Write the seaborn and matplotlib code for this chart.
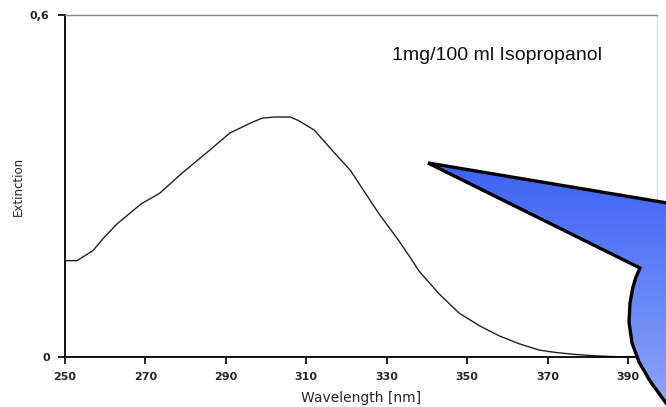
import numpy as np
import pandas as pd
import matplotlib
matplotlib.use("Agg")
import matplotlib.pyplot as plt
import seaborn as sns
from matplotlib.patches import Polygon
from matplotlib.colors import LinearSegmentedColormap

# ---- data ----
wavelength = [250, 253, 257, 259.5, 263, 269, 273.5, 279, 286, 291, 296, 299, 302, 306,
              308, 312, 316, 321, 328, 333, 336, 338, 343, 348, 353, 358, 363,
              368, 372, 376, 382, 389, 396]
extinction = [0.169, 0.169, 0.187, 0.208, 0.234, 0.269, 0.287, 0.322, 0.363, 0.393,
              0.410, 0.419, 0.421, 0.421, 0.415, 0.398, 0.366, 0.327, 0.252,
              0.204, 0.173, 0.151, 0.111, 0.077, 0.055, 0.037, 0.023, 0.012, 0.008,
              0.005, 0.002, 0.0, 0.0]
x_ticks = [250, 270, 290, 310, 330, 350, 370, 390]
y_ticks = [0, 0.6]
y_tick_labels = ["0", "0,6"]
annotation = "1mg/100 ml Isopropanol"
x_label = "Wavelength [nm]"
y_label = "Extinction"

df = pd.DataFrame({"wl": wavelength, "ext": extinction})

sns.set_style("white")
plt.rcParams["font.family"] = ["DejaVu Sans"]

W, H = 666, 407
fig = plt.figure(figsize=(W / 100, H / 100), dpi=100)
ax = fig.add_axes([65 / W, 1 - 357 / H, (657 - 65) / W, (357 - 15) / H])

sns.lineplot(data=df, x="wl", y="ext", ax=ax, color="#222222", linewidth=1.0)

ax.set_xlim(250, 397.2)
ax.set_ylim(0, 0.6)
ax.set_xticks(x_ticks)
ax.set_xticklabels([str(t) for t in x_ticks], fontsize=8, fontweight="bold")
ax.set_yticks(y_ticks)
ax.set_yticklabels(y_tick_labels, fontsize=8, fontweight="bold")
ax.tick_params(axis="both", direction="out", length=5, width=1.2, color="black",
               bottom=True, left=True, pad=6)
ax.set_xlabel(x_label, fontsize=10, labelpad=6)
ax.set_ylabel(y_label, fontsize=8.5, labelpad=4)
for s in ["left", "bottom"]:
    ax.spines[s].set_color("black")
    ax.spines[s].set_linewidth(1.3)
ax.spines["top"].set_color("#888888")
ax.spines["top"].set_linewidth(1.0)
ax.spines["right"].set_color("#dddddd")
ax.spines["right"].set_linewidth(1.0)
ax.grid(False)

ax.text(0.552, 0.881, annotation, transform=ax.transAxes, fontsize=14,
        family="Liberation Sans", va="center", ha="left", color="#111111")

# ---- callout overlay (pixel coordinates of the figure) ----
ov = fig.add_axes([0, 0, 1, 1])
ov.set_xlim(0, W)
ov.set_ylim(H, 0)
ov.axis("off")
ov.patch.set_alpha(0)
callout = [(428, 163), (720, 211.8), (720, 460), (690, 440), (666, 403), (650, 381),
           (639, 362), (632, 343), (629, 322), (630, 303), (633, 287), (636, 277),
           (640, 268)]
poly = Polygon(callout, closed=True, facecolor="none", edgecolor="black",
               linewidth=2.4, joinstyle="miter", zorder=3)
ov.add_patch(poly)
grad = np.linspace(0, 1, 256).reshape(-1, 1)
cmap = LinearSegmentedColormap.from_list("cb", ["#3a62f4", "#8ea6fb"])
im = ov.imshow(grad, cmap=cmap, extent=[420, 720, 410, 160], aspect="auto", zorder=2)
im.set_clip_path(poly)

fig.savefig("out.png", dpi=100)
